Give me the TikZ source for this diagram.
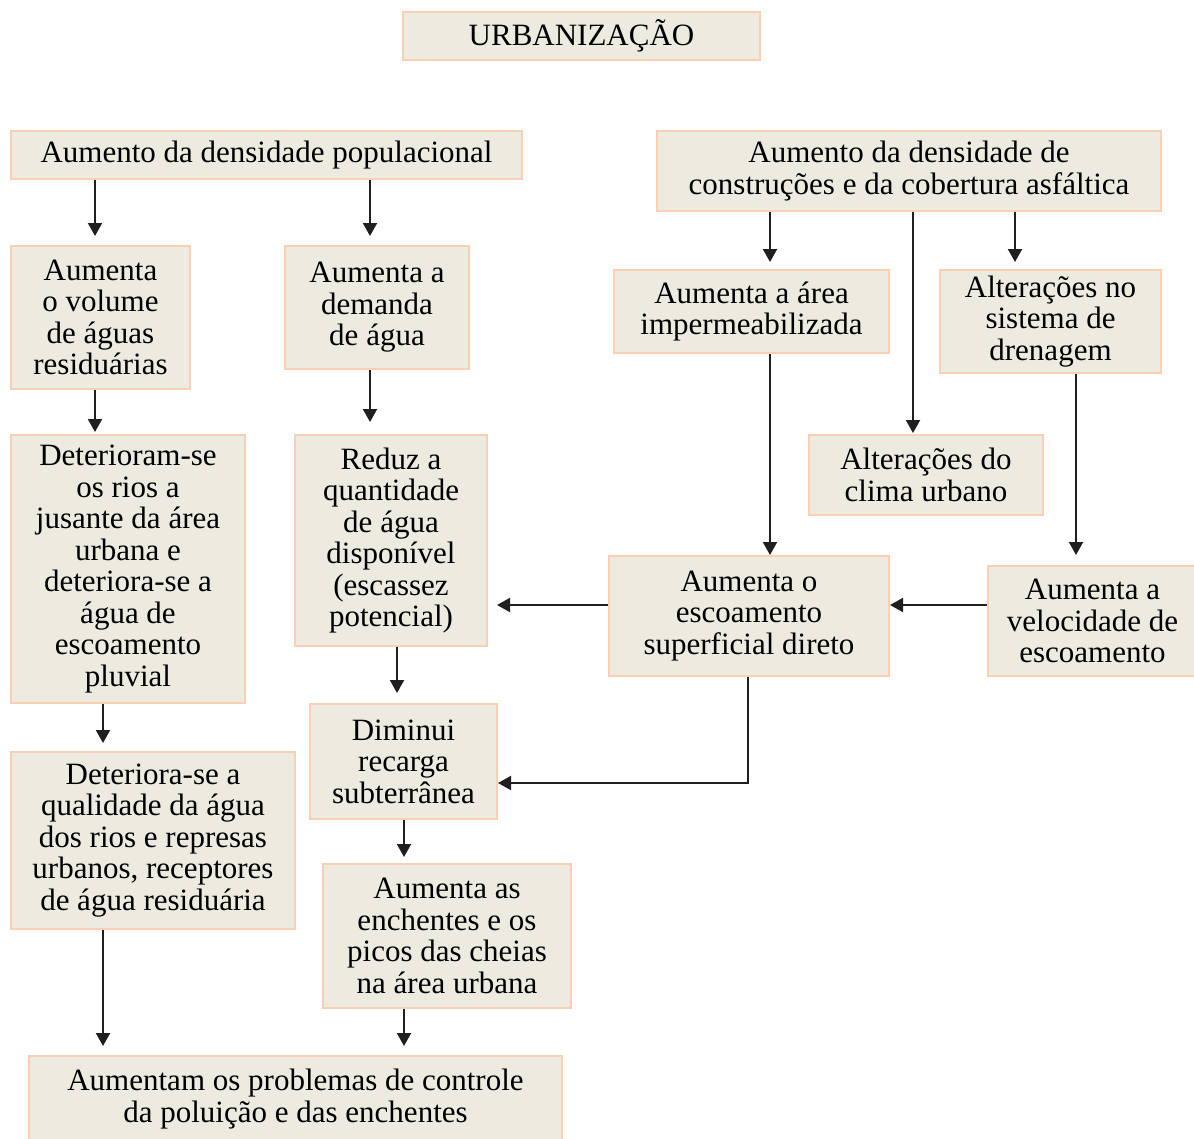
\documentclass[tikz,border=0pt]{standalone}
\usepackage{fontspec}
\setmainfont{Liberation Serif}
\usetikzlibrary{arrows.meta}
\definecolor{boxfill}{RGB}{237,234,224}
\definecolor{boxline}{RGB}{250,208,180}
\newcommand\mybox[6]{\node[box, minimum width={#4-#2}, minimum height={#5-#3}] (#1) at ({(#2+#4)/2},{(#3+#5)/2}) {#6};}
\begin{document}
\begin{tikzpicture}[x=1pt,y=-1pt,
  box/.style={draw=boxline, fill=boxfill, line width=2pt, align=center, inner sep=0pt,
    font=\fontsize{31}{31.5}\selectfont},
  arr/.style={-{Triangle[length=13pt,width=14pt]}, line width=2pt, draw=black!88}]
\useasboundingbox (0,0) rectangle (1194,1138);
\fill[white] (0,0) rectangle (1194,1138);
\mybox{urb}{403}{12}{760}{60}{URBANIZAÇÃO}
\mybox{pop}{11}{131}{522}{179}{Aumento da densidade populacional}
\mybox{con}{657}{131}{1161}{211}{Aumento da densidade de\\construções e da cobertura asfáltica}
\mybox{vol}{11}{246}{190}{389}{Aumenta\\o volume\\de águas\\residuárias}
\mybox{dem}{285}{246}{469}{369}{Aumenta a\\demanda\\de água}
\mybox{imp}{614}{270}{889}{353}{Aumenta a área\\impermeabilizada}
\mybox{dre}{940}{270}{1161}{373}{Alterações no\\sistema de\\drenagem}
\mybox{cli}{809}{435}{1043}{515}{Alterações do\\clima urbano}
\mybox{det}{11}{435}{245}{703}{Deterioram-se\\os rios a\\jusante da área\\urbana e\\deteriora-se a\\água de\\escoamento\\pluvial}
\mybox{red}{295}{435}{487}{646}{Reduz a\\quantidade\\de água\\disponível\\(escassez\\potencial)}
\mybox{esc}{609}{556}{889}{676}{Aumenta o\\escoamento\\superficial direto}
\mybox{vel}{988}{566}{1197}{676}{Aumenta a\\velocidade de\\escoamento}
\mybox{qua}{11}{752}{295}{929}{Deteriora-se a\\qualidade da água\\dos rios e represas\\urbanos, receptores\\de água residuária}
\mybox{rec}{310}{704}{497}{819}{Diminui\\recarga\\subterrânea}
\mybox{enc}{323}{864}{571}{1008}{Aumenta as\\enchentes e os\\picos das cheias\\na área urbana}
\mybox{pro}{29}{1056}{562}{1142}{Aumentam os problemas de controle\\da poluição e das enchentes}
% arrows
\draw[arr, shorten >=9pt] (pop.south -| 95,0) -- (vol.north -| 95,0);
\draw[arr, shorten >=9pt] (pop.south -| 370,0) -- (dem.north -| 370,0);
\draw[arr, shorten >=2pt] (vol.south -| 95,0) -- (det.north -| 95,0);
\draw[arr, shorten >=12pt] (dem.south -| 370,0) -- (red.north -| 370,0);
\draw[arr, shorten >=7pt] (con.south -| 770,0) -- (imp.north -| 770,0);
\draw[arr, shorten >=1pt] (con.south -| 913,0) -- (cli.north -| 913,0);
\draw[arr, shorten >=7pt] (con.south -| 1015,0) -- (dre.north -| 1015,0);
\draw[arr] (imp.south -| 770,0) -- (esc.north -| 770,0);
\draw[arr, shorten >=10pt] (dre.south -| 1076,0) -- (vel.north -| 1076,0);
\draw[arr] (vel.west |- 0,605) -- (esc.east |- 0,605);
\draw[arr, shorten >=9pt] (esc.west |- 0,605) -- (red.east |- 0,605);
\draw[arr] (esc.south -| 748,0) |- (rec.east |- 0,783);
\draw[arr, shorten >=8pt] (det.south -| 103,0) -- (qua.north -| 103,0);
\draw[arr, shorten >=10pt] (red.south -| 397,0) -- (rec.north -| 397,0);
\draw[arr, shorten >=6pt] (rec.south -| 404,0) -- (enc.north -| 404,0);
\draw[arr, shorten >=9pt] (qua.south -| 103,0) -- (pro.north -| 103,0);
\draw[arr, shorten >=9pt] (enc.south -| 404,0) -- (pro.north -| 404,0);
\end{tikzpicture}
\end{document}
